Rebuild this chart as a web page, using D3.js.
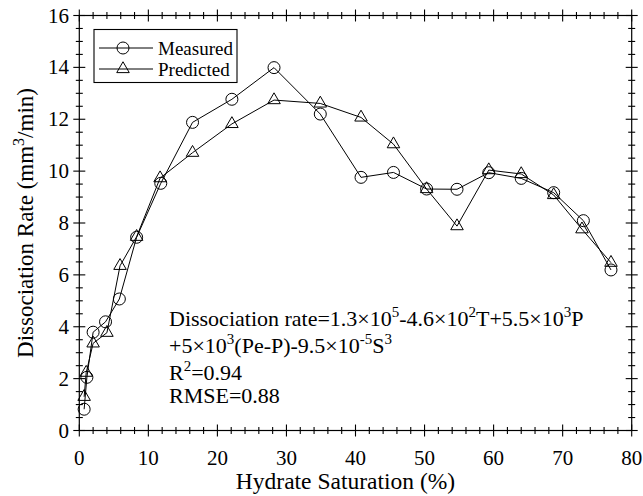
<!DOCTYPE html>
<html>
<head>
<meta charset="utf-8">
<script src="https://cdn.jsdelivr.net/npm/d3@7"></script>
<style>
  html, body { margin: 0; padding: 0; background: #fff; }
  svg { display: block; }
  text { font-family: "Liberation Serif", "Times New Roman", serif; fill: #000; }
</style>
</head>
<body>
<svg id="chart" width="643" height="496"></svg>
<script>
// ---- data ----
const saturationMeasured = [0.7, 1.1, 2.0, 3.8, 5.8, 8.3, 11.8, 16.4, 22.1, 28.2, 34.9, 40.8, 45.5, 50.3, 54.7, 59.3, 64.0, 68.7, 73.0, 77.0];
const rateMeasured = [0.82, 2.05, 3.79, 4.19, 5.07, 7.45, 9.53, 11.88, 12.77, 13.99, 12.2, 9.76, 9.95, 9.31, 9.30, 9.94, 9.72, 9.17, 8.09, 6.19];
const saturationPredicted = [0.7, 1.0, 2.0, 4.0, 5.9, 8.3, 11.7, 16.4, 22.1, 28.2, 34.9, 40.8, 45.5, 50.3, 54.7, 59.3, 64.0, 68.7, 72.8, 77.0];
const ratePredicted = [1.30, 2.23, 3.36, 3.77, 6.35, 7.47, 9.73, 10.71, 11.82, 12.74, 12.61, 12.07, 11.04, 9.31, 7.88, 10.04, 9.89, 9.08, 7.76, 6.47];
const xTicks = [0, 10, 20, 30, 40, 50, 60, 70, 80];
const yTicks = [0, 2, 4, 6, 8, 10, 12, 14, 16];
const seriesNames = ["Measured", "Predicted"];

// ---- layout ----
const svg = d3.select("#chart");
const L = 79.3, R = 631.7, T = 15.5, B = 430.5;
const x = d3.scaleLinear().domain([0, 80]).range([L, R]);
const y = d3.scaleLinear().domain([0, 16]).range([B, T]);

// frame
svg.append("rect").attr("x", L).attr("y", T).attr("width", R - L).attr("height", B - T)
  .attr("fill", "none").attr("stroke", "#000").attr("stroke-width", 1.2);

// ticks (crossing the frame)
const xMinor = d3.range(0, 80.01, 2);
const yMinor = d3.range(0, 16.01, 0.5);
const tickG = svg.append("g").attr("stroke", "#000").attr("stroke-width", 1.1);
xMinor.forEach(v => {
  const major = xTicks.includes(v);
  const h = major ? 6 : 3.5;
  tickG.append("line").attr("x1", x(v)).attr("x2", x(v)).attr("y1", B - h).attr("y2", B + h);
  tickG.append("line").attr("x1", x(v)).attr("x2", x(v)).attr("y1", T - h).attr("y2", T + h);
});
yMinor.forEach(v => {
  const major = yTicks.includes(v);
  const h = major ? 6 : 3.5;
  tickG.append("line").attr("y1", y(v)).attr("y2", y(v)).attr("x1", L - h).attr("x2", L + h);
  tickG.append("line").attr("y1", y(v)).attr("y2", y(v)).attr("x1", R - h).attr("x2", R + h);
});

// tick labels
svg.append("g").selectAll("text").data(xTicks).join("text")
  .attr("x", d => x(d)).attr("y", 465).attr("text-anchor", "middle")
  .attr("font-size", 21).text(d => d);
svg.append("g").selectAll("text").data(yTicks).join("text")
  .attr("x", 69).attr("y", d => y(d) + 7).attr("text-anchor", "end")
  .attr("font-size", 21).text(d => d);

// axis titles
svg.append("text").attr("x", (L + R) / 2 - 10).attr("y", 489).attr("text-anchor", "middle")
  .attr("font-size", 23.5).text("Hydrate Saturation (%)");
const yl = svg.append("text").attr("transform", `translate(33,${(T + B) / 2}) rotate(-90)`)
  .attr("text-anchor", "middle").attr("font-size", 23);
yl.append("tspan").text("Dissociation Rate (mm");
yl.append("tspan").attr("dy", -9).attr("font-size", 16).text("3");
yl.append("tspan").attr("dy", 9).text("/min)");

// lines + markers
const line = d3.line().x(d => x(d[0])).y(d => y(d[1]));
const measured = saturationMeasured.map((v, i) => [v, rateMeasured[i]]);
const predicted = saturationPredicted.map((v, i) => [v, ratePredicted[i]]);
svg.append("path").datum(measured).attr("d", line).attr("fill", "none").attr("stroke", "#000").attr("stroke-width", 1);
svg.append("path").datum(predicted).attr("d", line).attr("fill", "none").attr("stroke", "#000").attr("stroke-width", 1);
svg.append("g").selectAll("circle").data(measured).join("circle")
  .attr("cx", d => x(d[0])).attr("cy", d => y(d[1])).attr("r", 6)
  .attr("fill", "none").attr("stroke", "#000").attr("stroke-width", 1);
const tri = d3.symbol().type(d3.symbolTriangle).size(68);
svg.append("g").selectAll("path").data(predicted).join("path")
  .attr("transform", d => `translate(${x(d[0])},${y(d[1])})`).attr("d", tri)
  .attr("fill", "none").attr("stroke", "#000").attr("stroke-width", 1);

// legend
const lg = svg.append("g");
lg.append("rect").attr("x", 94).attr("y", 29.5).attr("width", 143).attr("height", 53)
  .attr("fill", "#fff").attr("stroke", "#000").attr("stroke-width", 1.1);
const rowsY = [48, 69];
seriesNames.forEach((name, i) => {
  lg.append("line").attr("x1", 99).attr("x2", 153).attr("y1", rowsY[i]).attr("y2", rowsY[i])
    .attr("stroke", "#000").attr("stroke-width", 1);
  if (i === 0) {
    lg.append("circle").attr("cx", 123).attr("cy", rowsY[i]).attr("r", 6)
      .attr("fill", "none").attr("stroke", "#000");
  } else {
    lg.append("path").attr("transform", `translate(123,${rowsY[i]})`).attr("d", tri)
      .attr("fill", "none").attr("stroke", "#000");
  }
  lg.append("text").attr("x", 158).attr("y", rowsY[i] + 7).attr("font-size", 19).text(name);
});

// annotation
function richLine(xp, yp, parts) {
  const t = svg.append("text").attr("x", xp).attr("y", yp).attr("font-size", 22);
  let shift = 0;
  parts.forEach(p => {
    if (typeof p === "string") {
      t.append("tspan").attr("dy", -shift).text(p);
      shift = 0;
    } else {
      t.append("tspan").attr("dy", -9).attr("font-size", 15).text(p.sup);
      shift = -9;
    }
  });
}
richLine(169, 326, ["Dissociation rate=1.3\u00d710", {sup: "5"}, "-4.6\u00d710", {sup: "2"}, "T+5.5\u00d710", {sup: "3"}, "P"]);
richLine(169, 353, ["+5\u00d710", {sup: "3"}, "(Pe-P)-9.5\u00d710", {sup: "-5"}, "S", {sup: "3"}]);
richLine(169, 380, ["R", {sup: "2"}, "=0.94"]);
richLine(169, 403, ["RMSE=0.88"]);
</script>
</body>
</html>
